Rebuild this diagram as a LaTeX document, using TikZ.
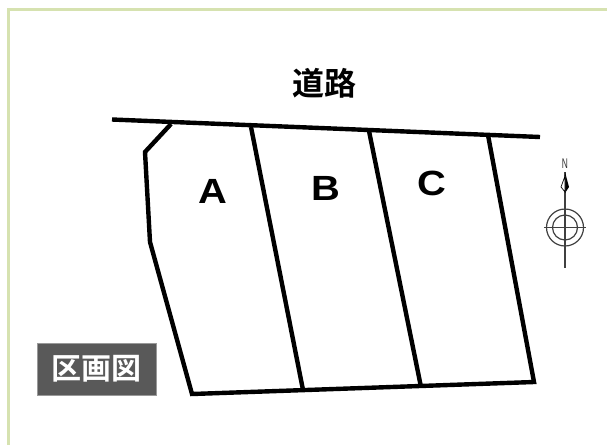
\documentclass[tikz,border=0pt]{standalone}
\usepackage{fontspec}
\setmainfont{Liberation Sans}
\newfontfamily\cjkb{Noto Sans CJK JP Bold}
\definecolor{frameg}{RGB}{214,226,176}
\definecolor{tagg}{RGB}{89,89,89}
\tikzset{
  lotline/.style={line width=4.4pt,black,line join=miter},
  lotlabel/.style={font=\fontsize{35}{35}\selectfont\bfseries,inner sep=0pt,xscale=1.14},
  compass/.style={line width=1.2pt,black!75},
}
\begin{document}
\begin{tikzpicture}[x=1pt,y=-1pt]
\useasboundingbox (0,0) rectangle (607,445);
\fill[white] (0,0) rectangle (607,445);
\draw[frameg,line width=3pt] (8,445) -- (8,9.5) -- (607,9.5);
% road
\draw[lotline] (112,119.5) -- (540,137);
% outline
\draw[lotline] (171,124) -- (145,152) -- (150,242) -- (192,394) -- (534,382) -- (488,135);
\draw[lotline] (251,127) -- (303,390);
\draw[lotline] (369,131) -- (421,387);
\node[font=\cjkb\fontsize{32}{32}\selectfont,inner sep=0pt] (road) at (324,83) {道路};
\node[lotlabel] (a) at (213,191) {A};
\node[lotlabel] (b) at (326,188) {B};
\node[lotlabel] (c) at (432,183) {C};
\node[fill=tagg,draw=black!40,line width=.5pt,minimum width=119pt,minimum height=52pt,inner sep=0pt,text=white,font=\cjkb\fontsize{30}{30}\selectfont] (tag) at (96.5,369) {区画図};
% compass
\draw[compass] (565,172) -- (565,268);
\draw[compass] (565,227.5) circle (18.5);
\draw[compass] (565,227.5) circle (12.5);
\draw[compass] (544,227.5) -- (586,227.5);
\fill[black] (565,172) -- (569,187) -- (565,193) -- cycle;
\draw[black,line width=.7pt,fill=white] (565,176) -- (561,187) -- (565,192) -- cycle;
\node[font=\fontsize{14}{14}\selectfont,inner sep=0pt,text=black!80,xscale=.6] (north) at (565,163.5) {N};
\end{tikzpicture}
\end{document}
